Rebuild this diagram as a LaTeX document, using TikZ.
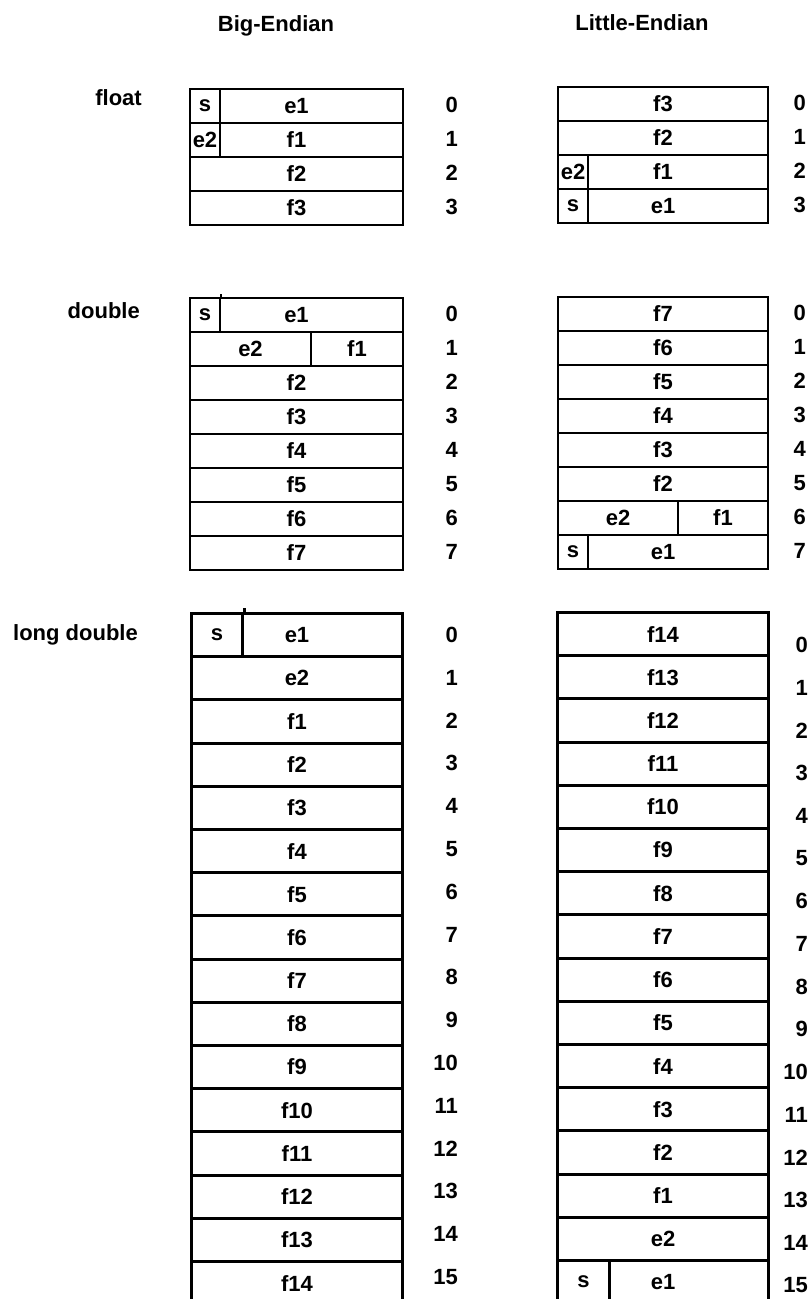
\documentclass[tikz,border=0pt]{standalone}
\usepackage{fontspec}
\setmainfont{Liberation Sans}

\begin{document}
\begin{tikzpicture}[x=1pt,y=-1pt,font=\fontsize{22}{26}\selectfont\bfseries,
  cell/.style={draw,line width=2pt,anchor=north west,inner sep=0pt,minimum height=34pt},
  bigcell/.style={cell,line width=3pt,minimum height=43.2pt},
  num/.style={anchor=east,inner sep=0pt}]
\useasboundingbox (0,0) rectangle (811,1299);
\clip (0,0) rectangle (811,1299);

\node (tbig) at (276,26) {Big-Endian};
\node (tlittle) at (642,23) {Little-Endian};
\node[num] (lfloat) at (142,98) {float};
\node[num] (ldouble) at (140,311) {double};
\node[num] (llong) at (138,635) {long double};

% float
\node[cell,minimum width=213pt] (fb0) at (189,88) {e1};
\node[cell,minimum width=213pt] (fb1) at (189,122) {f1};
\node[cell,minimum width=213pt] (fb2) at (189,156) {f2};
\node[cell,minimum width=213pt] (fb3) at (189,190) {f3};
\node[cell,minimum width=30pt] (fbs) at (189,88) {s};
\node[cell,minimum width=30pt] (fbe) at (189,122) {e2};
\node[cell,minimum width=210pt] (fl0) at (557,86) {f3};
\node[cell,minimum width=210pt] (fl1) at (557,120) {f2};
\node[cell,minimum width=210pt] (fl2) at (557,154) {f1};
\node[cell,minimum width=210pt] (fl3) at (557,188) {e1};
\node[cell,minimum width=30pt] (fle) at (557,154) {e2};
\node[cell,minimum width=30pt] (fls) at (557,188) {s};
\foreach \i in {0,...,3} {
  \node[num] (fbn\i) at (458,{105+34*\i}) {\i};
  \node[num] (fln\i) at (806,{103+34*\i}) {\i};
}

% double
\node[cell,minimum width=213pt] (db0) at (189,297) {e1};
\node[cell,minimum width=30pt] (dbs) at (189,297) {s};
\draw[line width=2pt] (dbs.north east) -- ++(0,-3);
\node[cell,minimum width=121pt] (dbe) at (189,331) {e2};
\node[cell,minimum width=92pt] (dbf) at (310,331) {f1};
\foreach \i in {2,...,7} {
  \node[cell,minimum width=213pt] (db\i) at (189,{297+34*\i}) {f\i};
}
\foreach \i in {0,...,5} {
  \pgfmathtruncatemacro\k{7-\i}
  \node[cell,minimum width=210pt] (dl\i) at (557,{296+34*\i}) {f\k};
}
\node[cell,minimum width=120pt] (dle) at (557,500) {e2};
\node[cell,minimum width=90pt] (dlf) at (677,500) {f1};
\node[cell,minimum width=210pt] (dl7) at (557,534) {e1};
\node[cell,minimum width=30pt] (dls) at (557,534) {s};
\foreach \i in {0,...,7} {
  \node[num] (dbn\i) at (458,{314+34*\i}) {\i};
  \node[num] (dln\i) at (806,{313+34*\i}) {\i};
}

% long double
\node[bigcell,minimum width=211pt] (lb0) at (190,612) {e1};
\node[bigcell,minimum width=51pt] (lbs) at (190,612) {s};
\draw[line width=3pt] (lbs.north east) -- ++(0,-4);
\node[bigcell,minimum width=211pt] (lb1) at (190,655.2) {e2};
\foreach \i in {2,...,15} {
  \pgfmathtruncatemacro\k{\i-1}
  \node[bigcell,minimum width=211pt] (lb\i) at (190,{612+43.2*\i}) {f\k};
}
\foreach \i in {0,...,13} {
  \pgfmathtruncatemacro\k{14-\i}
  \node[bigcell,minimum width=211pt] (ll\i) at (556,{611+43.2*\i}) {f\k};
}
\node[bigcell,minimum width=211pt] (ll14) at (556,1215.8) {e2};
\node[bigcell,minimum width=211pt] (ll15) at (556,1259) {e1};
\node[bigcell,minimum width=52pt] (lls) at (556,1259) {s};
\foreach \i in {0,...,15} {
  \node[num] (lbn\i) at (458,{635+42.8*\i}) {\i};
  \node[num] (lln\i) at (808,{645+42.7*\i}) {\i};
}
\end{tikzpicture}
\end{document}
